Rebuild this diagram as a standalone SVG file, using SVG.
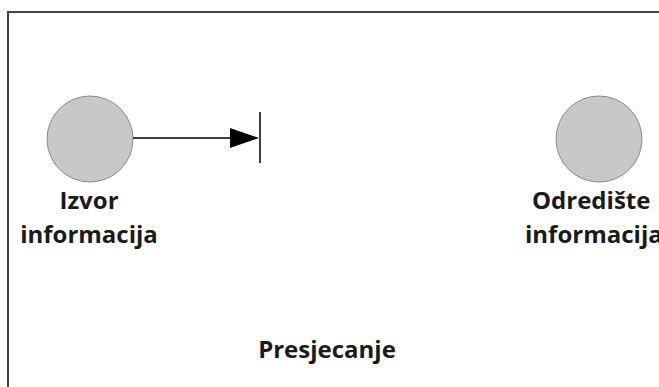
<svg xmlns="http://www.w3.org/2000/svg" width="659" height="387" viewBox="0 0 659 387">
  <style>
    .node circle { fill: #c8c8c8; stroke: #8a8a8a; stroke-width: 1; }
    .label { font-family: "Open Sans", "Liberation Sans", sans-serif; font-weight: bold; font-size: 24px; fill: #1a1a1a; }
    .mid { text-anchor: middle; }
    .edge { stroke: #000; stroke-width: 1.5; fill: none; }
  </style>
  <rect width="659" height="387" fill="#fff"/>
  <!-- outer frame, open to the right and bottom -->
  <rect x="8" y="12" width="670" height="400" fill="none" stroke="#444" stroke-width="2"/>

  <g id="izvor" class="node">
    <circle cx="90" cy="139" r="43"/>
    <text class="label mid" x="89" y="209">Izvor</text>
    <text class="label mid" x="89" y="243">informacija</text>
  </g>

  <g id="odrediste" class="node">
    <circle cx="599" cy="139" r="43"/>
    <text class="label" x="532" y="209">Odredište</text>
    <text class="label" x="525" y="243">informacija</text>
  </g>

  <g id="connectors">
    <line class="edge" x1="133" y1="138" x2="232" y2="138"/>
    <path d="M230,128 L259,138 L230,148 Z" fill="#000"/>
    <line class="edge" x1="260" y1="112" x2="260" y2="163"/>
  </g>

  <text class="label mid" x="327" y="358">Presjecanje</text>
</svg>
